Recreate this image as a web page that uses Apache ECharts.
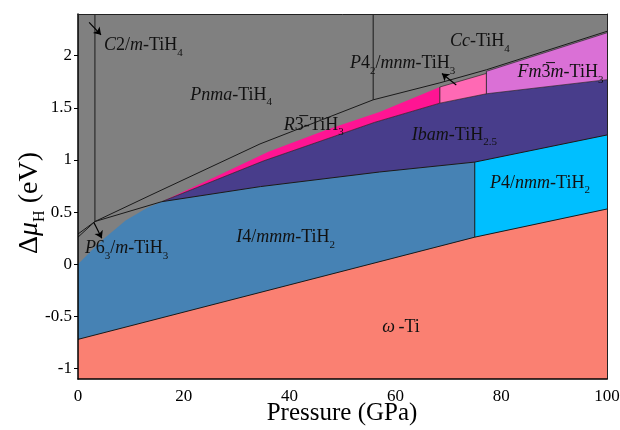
<!DOCTYPE html>
<html><head><meta charset="utf-8">
<script src="https://cdn.jsdelivr.net/npm/echarts@6/dist/echarts.min.js"></script>
<style>html,body{margin:0;padding:0;background:#fff}#c{width:620px;height:430px}</style>
</head><body><div id="c"></div>
<script>
// ---------------- data (pressure in GPa, Δμ_H in eV) ----------------
const xTicks = [0, 20, 40, 60, 80, 100];
const yTicks = [-1, -0.5, 0, 0.5, 1, 1.5, 2];
const xRange = [0, 100];
const yRange = [-1.1, 2.4];

// phase boundaries
const omegaTop     = [[0,-0.72],[75,0.26],[100,0.53]];
const i4mmmLeftTop = [[0,0],[2.5,0.13],[5,0.25],[9,0.42],[13,0.54],[15.8,0.6]];
const ibamBottom   = [[15.8,0.6],[34.5,0.745],[57,0.885],[75,0.98],[100,1.24]];
const ibamTop      = [[15.8,0.6],[35,0.99],[56,1.36],[68.4,1.545],[77.2,1.635],[100,1.77]];
const r3Top        = [[15.8,0.6],[26,0.84],[36,1.08],[47,1.29],[57,1.46],[68.4,1.70]];
const p42Top       = [[68.4,1.70],[77.2,1.83]];
const fm3mTop      = [[77.2,1.85],[100,2.22]];
const tih4Line     = [[0,0.26],[3.2,0.41],[13.6,0.66],[34.4,1.154],[55.8,1.577],[68.4,1.74],[77.2,1.865],[100,2.234]];
const p63Line      = [[0,0.29],[3.2,0.41],[15.8,0.6]];
const c2mLine      = [[3.2,0.41],[3.2,2.4]];
const ccLine       = [[55.8,1.577],[55.8,2.4]];
const p4nmmLine    = [[75,0.26],[75,0.98]];
const p42LeftLine  = [[68.4,1.545],[68.4,1.70]];
const fm3mLeftLine = [[77.2,1.635],[77.2,1.85]];

// phase labels: [pressure, Δμ, rich text]
const phaseLabels = [
  [4.9, 2.10, '{i|C}2/{i|m}-TiH{s|4}'],
  [21.2, 1.625, '{i|Pnma}-TiH{s|4}'],
  [38.9, 1.337, '{i|R}3\u0305-TiH{s|3}'],
  [51.4, 1.923, '{i|P}4{s|2}/{i|mnm}-TiH{s|3}'],
  [70.3, 2.135, '{i|Cc}-TiH{s|4}'],
  [83.1, 1.837, '{i|Fm}3\u0305{i|m}-TiH{s|3}'],
  [63.1, 1.24, '{i|Ibam}-TiH{s|2.5}'],
  [77.9, 0.78, '{i|P}4/{i|nmm}-TiH{s|2}'],
  [29.9, 0.26, '{i|I}4/{i|mmm}-TiH{s|2}'],
  [1.3, 0.154, '{i|P}6{s|3}/{i|m}-TiH{s|3}'],
  [57.5, -0.606, '{i|\u03c9}\u2009-Ti']
];
// arrows: [[from],[to]]
const arrows = [
  [[2.1, 2.32], [4.35, 2.2]],
  [[3.0, 0.40], [4.5, 0.25]],
  [[71.5, 1.72], [68.8, 1.83]]
];

// ---------------- helpers ----------------
const upTo = (a, p) => a.filter(q => q[0] <= p);
const fromP = (a, p) => a.filter(q => q[0] >= p);
const between = (a, p0, p1) => a.filter(q => q[0] >= p0 && q[0] <= p1);
const rev = a => a.slice().reverse();

const regions = [
  { color: '#808080', pts: [[xRange[0], yRange[0]], [xRange[1], yRange[0]], [xRange[1], yRange[1]], [xRange[0], yRange[1]]] },
  { color: '#FA8072', pts: omegaTop.concat([[xRange[1], yRange[0]], [xRange[0], yRange[0]]]) },
  { color: '#4682B4', pts: i4mmmLeftTop.concat(upTo(ibamBottom, 75).slice(1), rev(upTo(omegaTop, 75))) },
  { color: '#00BFFF', pts: fromP(ibamBottom, 75).concat(rev(fromP(omegaTop, 75))) },
  { color: '#483D8B', pts: ibamBottom.concat(rev(ibamTop)) },
  { color: '#FF1493', pts: upTo(ibamTop, 68.4).concat(rev(r3Top)) },
  { color: '#FF69B4', pts: between(ibamTop, 68.4, 77.2).concat(rev(p42Top)) },
  { color: '#DA70D6', pts: fromP(ibamTop, 77.2).concat(rev(fm3mTop)) }
];
const lines = [
  { pts: omegaTop, w: 1 }, { pts: ibamBottom, w: 1 }, { pts: p4nmmLine, w: 1 },
  { pts: ibamTop, w: 0.6 }, { pts: p42LeftLine, w: 0.8 }, { pts: fm3mLeftLine, w: 0.8 },
  { pts: p42Top, w: 0.6 }, { pts: fm3mTop, w: 0.6 },
  { pts: tih4Line, w: 1 }, { pts: p63Line, w: 1 }, { pts: c2mLine, w: 1 }, { pts: ccLine, w: 1 }
];

const FONT = 'Liberation Serif, Times New Roman, serif';
const series = [];
regions.forEach(r => series.push({
  type: 'custom', coordinateSystem: 'cartesian2d', silent: true, z: 2,
  data: [[r.pts[0][0], r.pts[0][1]]],
  renderItem: (params, api) => ({
    type: 'polygon',
    shape: { points: r.pts.map(p => api.coord(p)) },
    style: { fill: r.color, stroke: null }
  })
}));
lines.forEach(l => series.push({
  type: 'custom', coordinateSystem: 'cartesian2d', silent: true, z: 3,
  data: [[l.pts[0][0], l.pts[0][1]]],
  renderItem: (params, api) => ({
    type: 'polyline',
    shape: { points: l.pts.map(p => api.coord(p)) },
    style: { stroke: '#1a1a1a', lineWidth: l.w, fill: null }
  })
}));
series.push({
  type: 'lines', coordinateSystem: 'cartesian2d', silent: true, z: 4,
  symbol: ['none', 'arrow'], symbolSize: 7,
  lineStyle: { color: '#000', width: 1.2, opacity: 1 },
  data: arrows.map(a => ({ coords: a }))
});
series.push({
  type: 'custom', coordinateSystem: 'cartesian2d', silent: true, z: 5,
  data: phaseLabels.map(l => [l[0], l[1]]),
  renderItem: (params, api) => {
    const c = api.coord([api.value(0), api.value(1)]);
    return {
      type: 'text', x: c[0], y: c[1],
      style: {
        text: phaseLabels[params.dataIndex][2],
        fontFamily: FONT, fontSize: 18, fill: '#111', lineHeight: 26,
        align: 'left', verticalAlign: 'middle',
        rich: {
          i: { fontFamily: FONT, fontSize: 18, fontStyle: 'italic', fill: '#111', lineHeight: 26 },
          s: { fontFamily: FONT, fontSize: 11, fill: '#111', lineHeight: 11, verticalAlign: 'bottom' }
        }
      }
    };
  }
});

const chart = echarts.init(document.getElementById('c'), null, { renderer: 'canvas' });
chart.setOption({
  animation: false,
  backgroundColor: '#fff',
  grid: { left: 78, right: 13, top: 14, bottom: 51, containLabel: false, outerBoundsMode: 'none' },
  graphic: [{
    type: 'text', x: 30, y: 203, rotation: Math.PI / 2, silent: true,
    style: {
      text: '\u0394{i|\u03bc}{s|H} (eV)', fontFamily: FONT, fontSize: 28, fill: '#000',
      lineHeight: 35, align: 'center', verticalAlign: 'middle',
      rich: {
        i: { fontFamily: FONT, fontSize: 28, fontStyle: 'italic', fill: '#000', lineHeight: 35 },
        s: { fontFamily: FONT, fontSize: 16, fill: '#000', lineHeight: 16, verticalAlign: 'bottom' }
      }
    }
  }, {
    type: 'text', x: 342, y: 413, silent: true,
    style: {
      text: 'Pressure (GPa)', fontFamily: FONT, fontSize: 25, fill: '#000',
      align: 'center', verticalAlign: 'middle'
    }
  }],
  xAxis: [{
    type: 'value', min: xRange[0], max: xRange[1], interval: 20, position: 'bottom', z: 10,
    axisLine: { onZero: false, lineStyle: { color: '#000', width: 1.5 } },
    axisTick: { show: false }, splitLine: { show: false },
    axisLabel: { fontFamily: FONT, fontSize: 17, color: '#000', margin: 9, customValues: xTicks }
  }, {
    type: 'value', min: xRange[0], max: xRange[1], position: 'top', z: 10,
    axisLine: { onZero: false, lineStyle: { color: '#222', width: 1 } },
    axisTick: { show: false }, axisLabel: { show: false }, splitLine: { show: false }
  }],
  yAxis: [{
    type: 'value', min: yRange[0], max: yRange[1], position: 'left', z: 10,
    axisLine: { onZero: false, lineStyle: { color: '#000', width: 1.5 } },
    axisTick: { show: true, inside: false, length: 4, customValues: yTicks, lineStyle: { color: '#000' } },
    splitLine: { show: false },
    axisLabel: { fontFamily: FONT, fontSize: 17, color: '#000', margin: 6, customValues: yTicks }
  }, {
    type: 'value', min: yRange[0], max: yRange[1], position: 'right', z: 10,
    axisLine: { onZero: false, lineStyle: { color: '#222', width: 1 } },
    axisTick: { show: false }, axisLabel: { show: false }, splitLine: { show: false }
  }],
  series: series
});
</script>
</body></html>
